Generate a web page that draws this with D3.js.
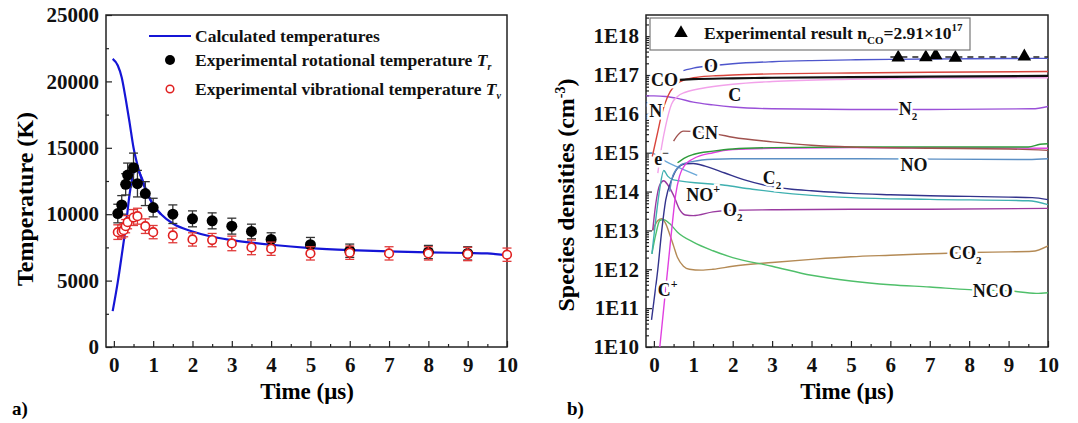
<!DOCTYPE html>
<html>
<head>
<meta charset="utf-8">
<script src="https://cdn.jsdelivr.net/npm/d3@7"></script>
<style>
  body { margin: 0; background: #fff; }
  svg text { font-family: "Liberation Serif", "Times New Roman", serif; font-weight: bold; }
</style>
</head>
<body>
<svg id="chart" width="1078" height="423"></svg>
<script>
/* Panel a) temperatures */
const timeTicks = [0, 1, 2, 3, 4, 5, 6, 7, 8, 9, 10];
const tempTicks = [0, 5000, 10000, 15000, 20000, 25000];

// calculated temperature, two branches
const calcHotT = [-0.03, 0.1, 0.2, 0.3, 0.4, 0.5, 0.6, 0.7, 0.8, 1.0, 1.2, 1.5, 2, 2.5, 3, 4, 5, 6, 7, 8, 9, 9.5, 10];
const calcHotV = [21700, 21200, 20300, 18700, 16900, 15000, 13700, 12700, 11900, 10700, 10000, 9300, 8700, 8300, 8050, 7700, 7450, 7300, 7200, 7120, 7080, 7050, 6900];
const calcColdT = [-0.03, 0.1, 0.2, 0.3, 0.4, 0.5, 0.55, 0.6, 0.7, 0.8, 1.0, 1.2];
const calcColdV = [2700, 4900, 6900, 9000, 11500, 13100, 13400, 13350, 12800, 12000, 10700, 10000];

// experimental rotational temperature Tr
const rotT = [0.1, 0.2, 0.3, 0.35, 0.5, 0.6, 0.8, 1.0, 1.5, 2, 2.5, 3, 3.5, 4, 5, 6, 8, 9];
const rotV = [10050, 10700, 12250, 12950, 13500, 12300, 11550, 10500, 10000, 9650, 9500, 9100, 8700, 8100, 7700, 7250, 7150, 7050];
const rotErr = [700, 700, 800, 900, 1100, 1000, 900, 700, 700, 600, 600, 600, 550, 500, 550, 500, 500, 500];

// experimental vibrational temperature Tv
const vibT = [0.1, 0.2, 0.25, 0.3, 0.35, 0.5, 0.6, 0.8, 1.0, 1.5, 2, 2.5, 3, 3.5, 4, 5, 6, 7, 8, 9, 10];
const vibV = [8650, 8700, 8800, 9100, 9400, 9750, 9850, 9100, 8650, 8400, 8100, 8050, 7800, 7500, 7400, 7050, 7100, 7050, 7050, 7000, 6950];
const vibErr = [550, 500, 500, 500, 500, 600, 600, 550, 500, 550, 500, 500, 550, 550, 500, 500, 500, 500, 500, 500, 500];

/* Panel b) species densities */
const densTicks = [1e10, 1e11, 1e12, 1e13, 1e14, 1e15, 1e16, 1e17, 1e18];

const oT = [0.75, 1.0, 1.5, 2, 3, 4, 5, 6, 7, 8, 9, 10];
const oV = [1.3e17, 1.5e17, 1.75e17, 1.95e17, 2.2e17, 2.35e17, 2.45e17, 2.52e17, 2.58e17, 2.62e17, 2.66e17, 2.68e17];
const coT = [0.65, 1, 2, 3, 5, 7, 10];
const coV = [7.5e16, 7.8e16, 8.2e16, 8.5e16, 8.8e16, 9.1e16, 9.5e16];
const nT = [-0.04, 0.1, 0.2, 0.35, 0.5, 0.7, 1.0, 1.5, 2, 3, 5, 7, 10];
const nV = [8e14, 3.5e15, 1e16, 2.8e16, 5e16, 7e16, 8.5e16, 9.5e16, 1.0e17, 1.07e17, 1.13e17, 1.18e17, 1.23e17];
const cT = [0.1, 0.2, 0.3, 0.45, 0.6, 0.8, 1.2, 2, 3, 5, 7, 10];
const cV = [3e14, 1.5e15, 5e15, 1.8e16, 2.8e16, 3.6e16, 4.5e16, 5.8e16, 6.8e16, 7.8e16, 8.3e16, 8.5e16];
const n2T = [-0.2, 0, 0.3, 0.6, 1, 1.5, 2, 3, 5, 7, 9.6, 10];
const n2V = [2.9e16, 2.9e16, 2.8e16, 2.5e16, 2.0e16, 1.7e16, 1.5e16, 1.35e16, 1.3e16, 1.3e16, 1.35e16, 1.55e16];
const cnT = [0.5, 0.6, 0.75, 1.6, 2, 3, 4, 5, 7, 9, 10];
const cnV = [2e15, 2.8e15, 3.6e15, 3.0e15, 2.5e15, 1.9e15, 1.55e15, 1.4e15, 1.3e15, 1.25e15, 1.15e15];
const unkT = [0.6, 0.8, 1, 1.5, 2, 3, 5, 7, 9.5, 9.8, 10];
const unkV = [5.5e14, 7.5e14, 9e14, 1.1e15, 1.25e15, 1.35e15, 1.4e15, 1.4e15, 1.4e15, 1.65e15, 1.7e15];
const cpT = [0.15, 0.25, 0.35, 0.45, 0.55, 0.65, 0.8, 1, 1.5, 2, 3, 5, 10];
const cpV = [1e10, 1e11, 1e12, 1e13, 8e13, 2.5e14, 5e14, 7e14, 1e15, 1.2e15, 1.3e15, 1.35e15, 1.3e15];
const noT = [0.4, 0.45, 0.55, 0.7, 1, 1.5, 2, 5, 9.5, 10];
const noV = [1e14, 2e14, 3.5e14, 5e14, 6e14, 6.8e14, 7e14, 7e14, 6.7e14, 7e14];
const elT = [-0.1, 0.0, 0.1, 0.3, 0.55, 0.8, 1.1];
const elV = [1e15, 9.5e14, 8e14, 6e14, 4.5e14, 3.5e14, 2.6e14];
const nopT = [-0.05, 0.05, 0.15, 0.25, 0.35, 0.5, 1.8, 2.5, 3, 4, 5, 7, 9.5, 10];
const nopV = [2.5e12, 2e13, 1.2e14, 3.5e14, 2.5e14, 2e14, 1.45e14, 1.15e14, 1e14, 8e13, 7e13, 6.3e13, 5.8e13, 4.6e13];
const c2T = [-0.06, 0.0, 0.1, 0.2, 0.3, 0.45, 0.6, 0.8, 1.0, 1.3, 1.8, 2.3, 2.9, 3.5, 4, 5, 6, 7, 8, 9, 9.6, 10];
const c2V = [5e10, 1.5e11, 1e12, 1e13, 6e13, 2e14, 4e14, 5.2e14, 5.3e14, 4.5e14, 3e14, 2e14, 1.4e14, 1.15e14, 1.05e14, 9e13, 8.3e13, 7.8e13, 7.5e13, 7.2e13, 7e13, 6.2e13];
const o2T = [-0.03, 0.05, 0.15, 0.25, 0.35, 0.5, 0.65, 0.8, 1.0, 1.5, 2, 3, 5, 7, 10];
const o2V = [1e13, 5e13, 1.5e14, 1.9e14, 1.5e14, 8e13, 3.5e13, 2.5e13, 2.4e13, 3.0e13, 3.3e13, 3.4e13, 3.5e13, 3.5e13, 3.7e13];
const co2T = [-0.03, 0.1, 0.2, 0.3, 0.4, 0.5, 0.6, 0.75, 0.9, 1.2, 1.5, 2, 3, 4, 5, 6, 7, 8, 9, 9.6, 10];
const co2V = [1e13, 1.8e13, 2e13, 1.5e13, 8e12, 4e12, 2e12, 1.2e12, 1e12, 9.5e11, 1e12, 1.2e12, 1.5e12, 1.8e12, 2.1e12, 2.3e12, 2.5e12, 2.7e12, 2.8e12, 2.9e12, 4e12];
const ncoT = [-0.05, 0.05, 0.15, 0.25, 0.4, 0.6, 1, 1.5, 2, 3, 4, 5, 6, 7, 8, 9, 9.7, 10];
const ncoV = [2.5e12, 8e12, 1.8e13, 1.9e13, 1.5e13, 9e12, 5e12, 3e12, 2e12, 1.2e12, 7e11, 5e11, 4e11, 3.5e11, 3e11, 2.8e11, 2.4e11, 2.5e11];

// experimental CO density
const expT = [6.2, 6.9, 7.15, 7.65, 9.4];
const expV = [2.8e17, 2.85e17, 3.2e17, 2.75e17, 3.0e17];
const expMean = 2.91e17;

const svg = d3.select('#chart');
const serif = '"Liberation Serif", "Times New Roman", serif';

// scales
const xA = d3.scaleLinear().domain([-0.2, 10]).range([106, 507]);
const yA = d3.scaleLinear().domain([0, 25000]).range([347, 15]);
const xB = d3.scaleLinear().domain([-0.2, 10]).range([646, 1048]);
const yB = d3.scaleLog().domain([1e10, 3.5e18]).range([347, 15]);

const halfTicks = d3.range(0.5, 10, 1);
const tempMinor = [2500, 7500, 12500, 17500, 22500];
const densMinor = [];
for (let e = 10; e <= 18; e += 1) {
  for (let k = 2; k <= 9; k += 1) {
    if (k * 10 ** e < 3.5e18) densMinor.push(k * 10 ** e);
  }
}

function drawAxes(x, y, yTicks, yMinor, yFmt) {
  const [x0, x1] = x.range();
  const [y0, y1] = y.range();
  const g = svg.append('g');
  g.append('g')
    .attr('transform', `translate(0,${y0})`)
    .call(d3.axisBottom(x).tickValues(timeTicks).tickSize(-6).tickPadding(10).tickFormat(d3.format('d')));
  g.append('g')
    .attr('transform', `translate(0,${y0})`)
    .call(d3.axisBottom(x).tickValues(halfTicks).tickSize(-3).tickFormat(''));
  g.append('g')
    .attr('transform', `translate(${x0},0)`)
    .call(d3.axisLeft(y).tickValues(yTicks).tickSize(-6).tickPadding(7).tickFormat(yFmt));
  g.append('g')
    .attr('transform', `translate(${x0},0)`)
    .call(d3.axisLeft(y).tickValues(yMinor).tickSize(-3).tickFormat(''));
  g.selectAll('.domain').remove();
  g.selectAll('.tick line').attr('stroke', '#222').attr('stroke-width', 1.2);
  g.selectAll('.tick text')
    .attr('font-family', serif)
    .attr('font-weight', 'bold')
    .attr('font-size', 21)
    .attr('fill', '#111');
  svg.append('rect')
    .attr('x', x0).attr('y', y1)
    .attr('width', x1 - x0).attr('height', y0 - y1)
    .attr('fill', 'none').attr('stroke', '#222').attr('stroke-width', 1.5);
}

/* ---------- panel a ---------- */
drawAxes(xA, yA, tempTicks, tempMinor, d3.format('d'));

const lineA = d3.line()
  .x((d) => xA(d[0]))
  .y((d) => yA(d[1]))
  .curve(d3.curveMonotoneX);

[[calcHotT, calcHotV], [calcColdT, calcColdV]].forEach(([ts, vs]) => {
  svg.append('path')
    .attr('d', lineA(ts.map((t, i) => [t, vs[i]])))
    .attr('fill', 'none')
    .attr('stroke', '#1515d6')
    .attr('stroke-width', 2.2);
});

function errorBars(ts, vs, es, color) {
  const g = svg.append('g').attr('stroke', color).attr('stroke-width', 1.3);
  ts.forEach((t, i) => {
    const x = xA(t);
    const top = yA(vs[i] + es[i]);
    const bot = yA(vs[i] - es[i]);
    g.append('line').attr('x1', x).attr('x2', x).attr('y1', top).attr('y2', bot);
    g.append('line').attr('x1', x - 4.5).attr('x2', x + 4.5).attr('y1', top).attr('y2', top);
    g.append('line').attr('x1', x - 4.5).attr('x2', x + 4.5).attr('y1', bot).attr('y2', bot);
  });
}

errorBars(rotT, rotV, rotErr, '#333');
svg.append('g').selectAll('circle')
  .data(rotT)
  .enter()
  .append('circle')
  .attr('cx', (d) => xA(d))
  .attr('cy', (d, i) => yA(rotV[i]))
  .attr('r', 5.5)
  .attr('fill', '#000');

errorBars(vibT, vibV, vibErr, '#e03a3a');
svg.append('g').selectAll('circle')
  .data(vibT)
  .enter()
  .append('circle')
  .attr('cx', (d) => xA(d))
  .attr('cy', (d, i) => yA(vibV[i]))
  .attr('r', 4.3)
  .attr('fill', '#fff')
  .attr('stroke', '#e02020')
  .attr('stroke-width', 1.6);

// legend a
const legA = svg.append('g').attr('font-size', 17.5).attr('fill', '#111');
legA.append('line').attr('x1', 149).attr('x2', 191).attr('y1', 36).attr('y2', 36)
  .attr('stroke', '#1515d6').attr('stroke-width', 2.2);
legA.append('text').attr('x', 195).attr('y', 42).text('Calculated temperatures');
legA.append('circle').attr('cx', 170).attr('cy', 60).attr('r', 5).attr('fill', '#000');
const trText = legA.append('text').attr('x', 195).attr('y', 66).text('Experimental rotational temperature ');
trText.append('tspan').attr('font-style', 'italic').text('T');
trText.append('tspan').attr('font-style', 'italic').attr('font-size', 10).attr('dy', 4).text('r');
legA.append('circle').attr('cx', 170).attr('cy', 89).attr('r', 3.8)
  .attr('fill', '#fff').attr('stroke', '#e02020').attr('stroke-width', 1.5);
const tvText = legA.append('text').attr('x', 195).attr('y', 95).text('Experimental vibrational temperature ');
tvText.append('tspan').attr('font-style', 'italic').text('T');
tvText.append('tspan').attr('font-style', 'italic').attr('font-size', 10).attr('dy', 4).text('v');

// axis titles a
svg.append('text')
  .attr('transform', 'translate(33,199) rotate(-90)')
  .attr('text-anchor', 'middle')
  .attr('font-size', 24)
  .text('Temperature (K)');
svg.append('text')
  .attr('x', 307).attr('y', 399)
  .attr('text-anchor', 'middle')
  .attr('font-size', 23)
  .text('Time (μs)');
svg.append('text').attr('x', 12).attr('y', 415).attr('font-size', 19).text('a)');

/* ---------- panel b ---------- */
drawAxes(xB, yB, densTicks, densMinor, (d) => `1E${Math.round(Math.log10(d))}`);

svg.append('clipPath').attr('id', 'clipB')
  .append('rect').attr('x', 646).attr('y', 15).attr('width', 402).attr('height', 332);

const lineB = d3.line()
  .x((d) => xB(d[0]))
  .y((d) => yB(d[1]))
  .curve(d3.curveMonotoneX);

const species = [
  { t: co2T, v: co2V, color: '#b48a55' },
  { t: ncoT, v: ncoV, color: '#4fbf6a' },
  { t: o2T, v: o2V, color: '#9a3aa0' },
  { t: nopT, v: nopV, color: '#3fb0b0' },
  { t: elT, v: elV, color: '#6aa8d8' },
  { t: c2T, v: c2V, color: '#33338c' },
  { t: noT, v: noV, color: '#5b8fc4' },
  { t: cpT, v: cpV, color: '#e040e0' },
  { t: unkT, v: unkV, color: '#2e9a3a' },
  { t: cnT, v: cnV, color: '#a0524f' },
  { t: n2T, v: n2V, color: '#9a50d8' },
  { t: cT, v: cV, color: '#f2a2ea' },
  { t: nT, v: nV, color: '#d8443c' },
  { t: oT, v: oV, color: '#4e56cc' },
];

const plotB = svg.append('g').attr('clip-path', 'url(#clipB)');
species.forEach((s) => {
  plotB.append('path')
    .attr('d', lineB(s.t.map((t, i) => [t, s.v[i]])))
    .attr('fill', 'none')
    .attr('stroke', s.color)
    .attr('stroke-width', 1.4);
});
plotB.append('path')
  .attr('d', lineB(coT.map((t, i) => [t, coV[i]])))
  .attr('fill', 'none')
  .attr('stroke', '#111')
  .attr('stroke-width', 2.2);

// experimental CO line and points
plotB.append('line')
  .attr('x1', xB(6.0)).attr('x2', xB(10))
  .attr('y1', yB(expMean)).attr('y2', yB(expMean))
  .attr('stroke', '#222').attr('stroke-width', 1.4).attr('stroke-dasharray', '6,5');
const tri = d3.symbol().type(d3.symbolTriangle).size(80);
plotB.selectAll('path.exp')
  .data(expT)
  .enter()
  .append('path')
  .attr('class', 'exp')
  .attr('d', tri)
  .attr('transform', (d, i) => `translate(${xB(d)},${yB(expV[i])})`)
  .attr('fill', '#000');

// species labels, white halo to cut the line
const labels = [
  { t: 1.45, v: 1.7e17, base: 'O' },
  { t: 0.27, v: 7.5e16, base: 'CO' },
  { t: 2.05, v: 3e16, base: 'C' },
  { t: 0.05, v: 1.2e16, base: 'N' },
  { t: 6.45, v: 1.3e16, base: 'N', sub: '2' },
  { t: 1.3, v: 3.2e15, base: 'CN' },
  { t: 0.2, v: 6.8e14, base: 'e', sup: '−' },
  { t: 6.6, v: 4.8e14, base: 'NO' },
  { t: 3.0, v: 2.2e14, base: 'C', sub: '2' },
  { t: 1.25, v: 8.2e13, base: 'NO', sup: '+' },
  { t: 2.0, v: 3.3e13, base: 'O', sub: '2' },
  { t: 7.9, v: 2.6e12, base: 'CO', sub: '2' },
  { t: 8.6, v: 2.8e11, base: 'NCO' },
  { t: 0.35, v: 3e11, base: 'C', sup: '+' },
];
const labG = svg.append('g').attr('font-size', 18).attr('fill', '#111');
labels.forEach((l) => {
  const txt = labG.append('text')
    .attr('x', xB(l.t))
    .attr('y', yB(l.v) + 6)
    .attr('text-anchor', 'middle')
    .attr('stroke', '#fff')
    .attr('stroke-width', 5)
    .attr('paint-order', 'stroke')
    .text(l.base);
  if (l.sub) txt.append('tspan').attr('font-size', 11).attr('dy', 5).text(l.sub);
  if (l.sup) txt.append('tspan').attr('font-size', 12).attr('dy', -8).text(l.sup);
});

// legend b
const legB = svg.append('g').attr('font-size', 17.5).attr('fill', '#111');
legB.append('rect').attr('x', 650).attr('y', 18).attr('width', 320).attr('height', 32)
  .attr('fill', '#fff').attr('stroke', '#777').attr('stroke-width', 1.2);
legB.append('path').attr('d', tri).attr('transform', 'translate(681,33)').attr('fill', '#000');
const expText = legB.append('text').attr('x', 704).attr('y', 39).text('Experimental result n');
expText.append('tspan').attr('font-size', 11).attr('dy', 5).text('CO');
expText.append('tspan').attr('dy', -5).text('=2.91×10');
expText.append('tspan').attr('font-size', 11).attr('dy', -8).text('17');

// axis titles b
const yTitleB = svg.append('text')
  .attr('transform', 'translate(574,195) rotate(-90)')
  .attr('text-anchor', 'middle')
  .attr('font-size', 24)
  .text('Species densities (cm');
yTitleB.append('tspan').attr('font-size', 14).attr('dy', -9).text('-3');
yTitleB.append('tspan').attr('dy', 9).text(')');
svg.append('text')
  .attr('x', 847).attr('y', 399)
  .attr('text-anchor', 'middle')
  .attr('font-size', 23)
  .text('Time (μs)');
svg.append('text').attr('x', 567).attr('y', 415).attr('font-size', 19).text('b)');
</script>
</body>
</html>
